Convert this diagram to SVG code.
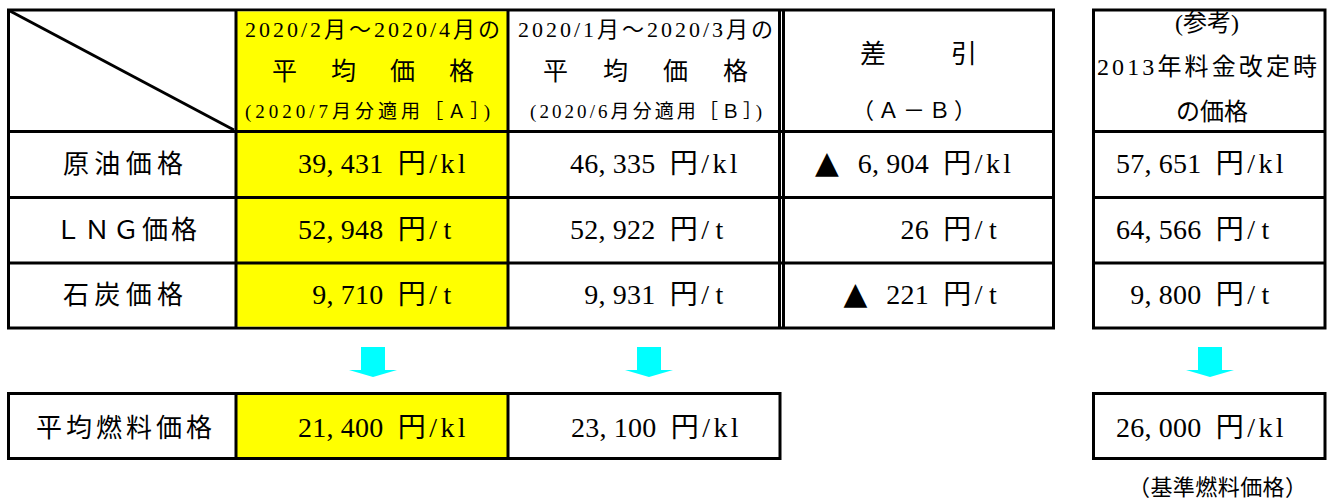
<svg xmlns="http://www.w3.org/2000/svg" width="1328" height="503" viewBox="0 0 1328 503">
<style>
  text { font-family: "Liberation Serif", "Noto Sans CJK JP", serif; fill: #000; }
  .ln { stroke: #000; stroke-width: 3; fill: none; }
  .box { stroke: #000; stroke-width: 3; fill: #fff; }
  .yel { fill: #FFFF00; }
  .arr { fill: #00FFFF; }
  .lbl { font-size: 26px; }
  .val { font-size: 28px; }
  .tri { font-family: "DejaVu Sans", sans-serif; font-size: 31px; }
  .h1 { font-size: 22px; }
  .h2 { font-size: 25px; }
  .h3 { font-size: 19px; }
</style>
<rect width="1328" height="503" fill="#fff"/>

<g id="main-table">
  <rect class="box" x="8.5" y="10" width="1045" height="318"/>
  <rect class="yel" x="236" y="11.5" width="272" height="315"/>
  <path class="ln" d="M8.5 131.5H1053.5M8.5 197.5H1053.5M8.5 263H1053.5"/>
  <path class="ln" d="M236 10V328M508 10V328M779.5 10V328M783.5 10V328"/>
  <path class="ln" d="M10 11L234 130"/>
</g>

<g id="ref-table">
  <rect class="box" x="1093.5" y="10" width="231.5" height="318"/>
  <path class="ln" d="M1093.5 131.5H1325M1093.5 197.5H1325M1093.5 263H1325"/>
</g>

<g id="header-a">
  <text class="h1" x="245" y="37" textLength="255" lengthAdjust="spacing">2020/2月～2020/4月の</text>
  <text class="h2" x="272 331 390 449" y="80">平均価格</text>
  <text class="h3" x="245" y="118" textLength="245" lengthAdjust="spacing">(2020/7月分適用［Ａ］)</text>
</g>
<g id="header-b">
  <text class="h1" x="518" y="37" textLength="255" lengthAdjust="spacing">2020/1月～2020/3月の</text>
  <text class="h2" x="543 603 663 723" y="80">平均価格</text>
  <text class="h3" x="530" y="118" textLength="232" lengthAdjust="spacing">(2020/6月分適用［Ｂ］)</text>
</g>
<g id="header-diff">
  <text class="h2" x="860 951" y="63" style="font-size:26px">差引</text>
  <text class="h1" x="852" y="118" textLength="124" lengthAdjust="spacing">（Ａ－Ｂ）</text>
</g>
<g id="header-ref">
  <text class="h2" x="1207" y="31" text-anchor="middle" style="font-size:24px">(参考)</text>
  <text class="h2" x="1097" y="75" textLength="220" lengthAdjust="spacing" style="font-size:24px">2013年料金改定時</text>
  <text class="h2" x="1212" y="120" text-anchor="middle" style="font-size:24px">の価格</text>
</g>

<g id="row-crude">
  <text class="lbl" x="63" y="173" textLength="120" lengthAdjust="spacing">原油価格</text>
  <text class="val" x="298 312.25 326.5 340.75 355 369.25 383.5 397.75 429.25 440.5 457.75" y="173">39,431 円/kl</text>
  <text class="val" x="570 584.25 598.5 612.75 627 641.25 655.5 669.75 701.25 712.5 729.75" y="173">46,335 円/kl</text>
  <text class="val" x="815 843.5 857.75 872 886.25 900.5 914.75 929 943.25 974.75 986 1003.25" y="173"><tspan class="tri">▲</tspan> 6,904 円/kl</text>
  <text class="val" x="1116 1130.25 1144.5 1158.75 1173 1187.25 1201.5 1215.75 1247.25 1258.5 1275.75" y="173">57,651 円/kl</text>
</g>
<g id="row-lng">
  <text class="lbl" x="55" y="239" textLength="142" lengthAdjust="spacing">ＬＮＧ価格</text>
  <text class="val" x="298 312.25 326.5 340.75 355 369.25 383.5 397.75 429.25 443.5" y="239">52,948 円/t</text>
  <text class="val" x="570 584.25 598.5 612.75 627 641.25 655.5 669.75 701.25 715.5" y="239">52,922 円/t</text>
  <text class="val" x="900.5 914.75 929 943.25 974.75 989" y="239">26 円/t</text>
  <text class="val" x="1116 1130.25 1144.5 1158.75 1173 1187.25 1201.5 1215.75 1247.25 1261.5" y="239">64,566 円/t</text>
</g>
<g id="row-coal">
  <text class="lbl" x="63" y="304" textLength="120" lengthAdjust="spacing">石炭価格</text>
  <text class="val" x="312.25 326.5 340.75 355 369.25 383.5 397.75 429.25 443.5" y="304">9,710 円/t</text>
  <text class="val" x="584.25 598.5 612.75 627 641.25 655.5 669.75 701.25 715.5" y="304">9,931 円/t</text>
  <text class="val" x="843.5 872 886.25 900.5 914.75 929 943.25 974.75 989" y="304"><tspan class="tri">▲</tspan> 221 円/t</text>
  <text class="val" x="1130.25 1144.5 1158.75 1173 1187.25 1201.5 1215.75 1247.25 1261.5" y="304">9,800 円/t</text>
</g>

<g id="connectors">
  <path class="arr" d="M361 347H385V370H397L373 377L349 370H361Z"/>
  <path class="arr" d="M637 347H661V370H673L649 377L625 370H637Z"/>
  <path class="arr" d="M1198 347H1222V370H1234L1210 377L1186 370H1198Z"/>
</g>

<g id="avg-table">
  <rect class="box" x="8.5" y="393.5" width="771.5" height="65"/>
  <rect class="yel" x="236" y="395" width="272" height="62"/>
  <path class="ln" d="M236 393.5V458.5M508 393.5V458.5"/>
  <text class="lbl" x="36" y="437" textLength="176" lengthAdjust="spacing">平均燃料価格</text>
  <text class="val" x="298 312.25 326.5 340.75 355 369.25 383.5 397.75 429.25 440.5 457.75" y="437">21,400 円/kl</text>
  <text class="val" x="571 585.25 599.5 613.75 628 642.25 656.5 670.75 702.25 713.5 730.75" y="437">23,100 円/kl</text>
</g>

<g id="base-table">
  <rect class="box" x="1093.5" y="393.5" width="231.5" height="65"/>
  <text class="val" x="1116 1130.25 1144.5 1158.75 1173 1187.25 1201.5 1215.75 1247.25 1258.5 1275.75" y="437">26,000 円/kl</text>
  <text class="h1" x="1128" y="495" textLength="179" lengthAdjust="spacing">（基準燃料価格）</text>
</g>
</svg>
